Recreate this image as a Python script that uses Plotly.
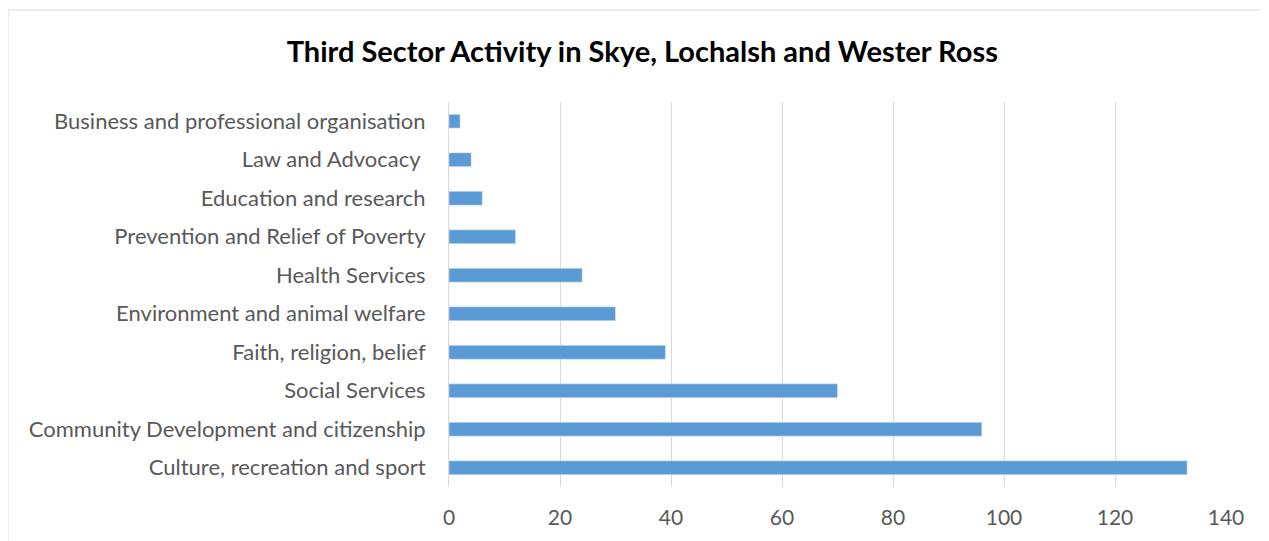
import plotly.graph_objects as go

# Categories listed bottom to top
categories = [
    "Culture, recreation and sport",
    "Community Development and citizenship",
    "Social Services",
    "Faith, religion, belief",
    "Environment and animal welfare",
    "Health Services",
    "Prevention and Relief of Poverty",
    "Education and research",
    "Law and Advocacy ",
    "Business and professional organisation",
]
counts = [133, 96, 70, 39, 30, 24, 12, 6, 4, 2]
x_ticks = [0, 20, 40, 60, 80, 100, 120, 140]

# the page body has an 8px default margin, so the figure is trimmed to fit
W, H = 1261, 533
margin = dict(l=441, r=43, t=94, b=54)
font_family = "Lato, 'Open Sans', sans-serif"

fig = go.Figure(
    go.Bar(
        x=counts,
        y=categories,
        orientation="h",
        marker=dict(color="#5B9BD5"),
        width=0.36,
        hoverinfo="x+y",
    )
)

# light outer chart border like the spreadsheet chart frame
pw = W - margin["l"] - margin["r"]
ph = H - margin["t"] - margin["b"]
fig.add_shape(
    type="rect",
    xref="paper",
    yref="paper",
    x0=(0 - margin["l"]) / pw,
    x1=(W + 20 - margin["l"]) / pw,
    y0=(H - margin["b"] - (H + 20)) / ph,
    y1=(H - margin["b"] - 2) / ph,
    line=dict(color="#D9D9D9", width=1),
    fillcolor="rgba(0,0,0,0)",
    layer="below",
)

fig.update_layout(
    width=W,
    height=H,
    margin=margin,
    paper_bgcolor="white",
    plot_bgcolor="white",
    showlegend=False,
    font=dict(family=font_family, color="#595959", size=21),
    title=dict(
        text="<b>Third Sector Activity in Skye, Lochalsh and Wester Ross</b>",
        x=0.503,
        xanchor="center",
        y=0.918,
        yanchor="middle",
        font=dict(family=font_family, size=29, color="black"),
    ),
    xaxis=dict(
        range=[0, 140],
        tickvals=x_ticks,
        showgrid=True,
        gridcolor="#D9D9D9",
        gridwidth=1,
        zeroline=False,
        showline=False,
        ticks="",
        ticklabelstandoff=16,
        tickfont=dict(size=21, color="#595959"),
    ),
    yaxis=dict(
        showline=True,
        linecolor="#D9D9D9",
        linewidth=1,
        ticks="",
        ticklabelstandoff=18,
        tickfont=dict(size=22, color="#595959"),
        range=[-0.5, 9.5],
    ),
)

fig.write_html("out.html")
